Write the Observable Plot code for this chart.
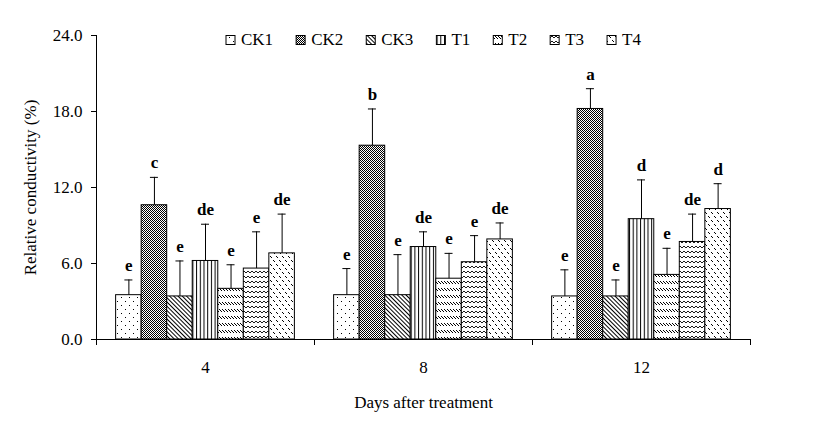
<!DOCTYPE html>
<html><head><meta charset="utf-8">
<script src="https://cdn.jsdelivr.net/npm/d3@7"></script>
<script src="https://cdn.jsdelivr.net/npm/@observablehq/plot@0.6"></script>
<style>
body{margin:0;background:#fff;}
#chart{position:relative;width:827px;height:431px;}
</style>
</head><body><div id="chart"></div>
<script>
// ---- data ----
const days = [4, 8, 12];
const series = ["CK1", "CK2", "CK3", "T1", "T2", "T3", "T4"];
const yTicks = [0, 6, 12, 18, 24];

const valCK1 = [3.5, 3.5, 3.4];
const valCK2 = [10.6, 15.3, 18.2];
const valCK3 = [3.4, 3.5, 3.4];
const valT1 = [6.2, 7.3, 9.5];
const valT2 = [4.0, 4.8, 5.1];
const valT3 = [5.6, 6.1, 7.7];
const valT4 = [6.8, 7.9, 10.3];

const errCK1 = [1.2, 2.1, 2.1];
const errCK2 = [2.2, 2.9, 1.6];
const errCK3 = [2.8, 3.2, 1.3];
const errT1 = [2.9, 1.2, 3.1];
const errT2 = [1.9, 2.0, 2.1];
const errT3 = [2.9, 2.1, 2.2];
const errT4 = [3.1, 1.3, 2.0];

const letCK1 = ["e", "e", "e"];
const letCK2 = ["c", "b", "a"];
const letCK3 = ["e", "e", "e"];
const letT1 = ["de", "de", "d"];
const letT2 = ["e", "e", "e"];
const letT3 = ["e", "e", "de"];
const letT4 = ["de", "de", "d"];

const values = {CK1: valCK1, CK2: valCK2, CK3: valCK3, T1: valT1, T2: valT2, T3: valT3, T4: valT4};
const errors = {CK1: errCK1, CK2: errCK2, CK3: errCK3, T1: errT1, T2: errT2, T3: errT3, T4: errT4};
const letters = {CK1: letCK1, CK2: letCK2, CK3: letCK3, T1: letT1, T2: letT2, T3: letT3, T4: letT4};

const rows = [];
series.forEach((s, si) => days.forEach((d, gi) => rows.push({
  series: s, day: d, gi, si, value: values[s][gi], err: errors[s][gi], letter: letters[s][gi]
})));

// group layout (in x-scale units: each day group spans one unit)
const pad = 0.09;
const bw = (1 - 2 * pad) / series.length;
const bx1 = d => d.gi + pad + d.si * bw;
const bx2 = d => bx1(d) + bw;
const bxc = d => bx1(d) + bw / 2;
const errTop = d => d.value + d.err;

const FONT = "'Liberation Serif', 'Times New Roman', serif";

const plot = Plot.plot({
  width: 827, height: 431,
  marginLeft: 96, marginRight: 77, marginTop: 35, marginBottom: 92,
  style: {fontFamily: FONT, background: "white", color: "black", overflow: "visible"},
  x: {domain: [0, days.length], axis: null},
  y: {domain: [0, 24], axis: null},
  color: {type: "identity"},
  marks: [
    Plot.axisY({ticks: yTicks, tickFormat: d3.format(".1f"), tickSize: 5, tickPadding: 9, fontSize: 17, label: null}),
    Plot.text(["Relative conductivity (%)"], {frameAnchor: "left", textAnchor: "middle", rotate: -90, dx: -66, fontSize: 17, text: d => d}),
    Plot.axisX({ticks: d3.range(days.length + 1), tickSize: 6, tickFormat: () => "", label: null}),
    Plot.axisX({ticks: days.map((d, i) => i + 0.5), tickSize: 0, tickPadding: 21, tickFormat: t => String(days[Math.floor(t)]),
      fontSize: 17, label: "Days after treatment", labelAnchor: "center", labelArrow: "none", labelOffset: 68}),
    Plot.rectY(rows, {x1: bx1, x2: bx2, y: "value", fill: d => `url(#pat-${d.series})`, stroke: "black", strokeWidth: 1}),
    Plot.ruleX(rows, {x: bxc, y1: "value", y2: errTop, stroke: "black", strokeWidth: 1}),
    Plot.ruleY(rows, {y: errTop, x1: bxc, x2: bxc, insetLeft: -4, insetRight: -4, stroke: "black", strokeWidth: 1}),
    Plot.text(rows, {x: bxc, y: errTop, text: "letter", dy: -9, lineAnchor: "bottom", fontWeight: "bold", fontSize: 17}),
    Plot.ruleY([0], {stroke: "black"}),
    Plot.ruleX([0], {stroke: "black"})
  ]
});

document.getElementById("chart").appendChild(plot);

// ---- fill patterns ----
const svg = d3.select(plot);
const defs = svg.insert("defs", ":first-child");
function pattern(id, w, h, draw, transform) {
  const p = defs.append("pattern").attr("id", id).attr("patternUnits", "userSpaceOnUse")
    .attr("width", w).attr("height", h);
  if (transform) p.attr("patternTransform", transform);
  p.append("rect").attr("width", w).attr("height", h).attr("fill", "white");
  draw(p);
}
const px = (g, x, y, s = 1) => g.append("rect").attr("x", x).attr("y", y).attr("width", s).attr("height", s).attr("fill", "black");
pattern("pat-CK1", 8, 8, g => { px(g, 1, 1); px(g, 5, 5); });
pattern("pat-CK2", 2, 2, g => { px(g, 0, 0); px(g, 1, 1); });
pattern("pat-CK3", 3, 3, g => g.append("rect").attr("x", 0).attr("y", 0).attr("width", 1).attr("height", 3).attr("fill", "black"), "rotate(-45)");
pattern("pat-T1", 3.7, 4, g => g.append("rect").attr("x", 0).attr("y", 0).attr("width", 1).attr("height", 4).attr("fill", "black"));
pattern("pat-T2", 3, 7, g => { px(g, 0, 1); px(g, 1, 2); px(g, 2, 3); });
pattern("pat-T3", 4, 5, g => g.append("path").attr("d", "M0,1 L2,3 L4,1").attr("stroke", "black").attr("stroke-width", 0.9).attr("fill", "none"));
pattern("pat-T4", 6, 8, g => { px(g, 0, 0); px(g, 1, 1); px(g, 3, 4); px(g, 4, 5); });

// ---- legend ----
const lg = svg.append("g").attr("font-family", FONT).attr("font-size", 17).attr("text-anchor", "start");
let lx = 226;
series.forEach(s => {
  lg.append("rect").attr("x", lx).attr("y", 35.5).attr("width", 9).attr("height", 9)
    .attr("fill", `url(#pat-${s})`).attr("stroke", "black").attr("stroke-width", 1);
  const t = lg.append("text").attr("x", lx + 15).attr("y", 45).attr("fill", "black").attr("text-anchor", "start").text(s);
  lx += 15 + t.node().getComputedTextLength() + 23;
});
</script>
</body></html>
